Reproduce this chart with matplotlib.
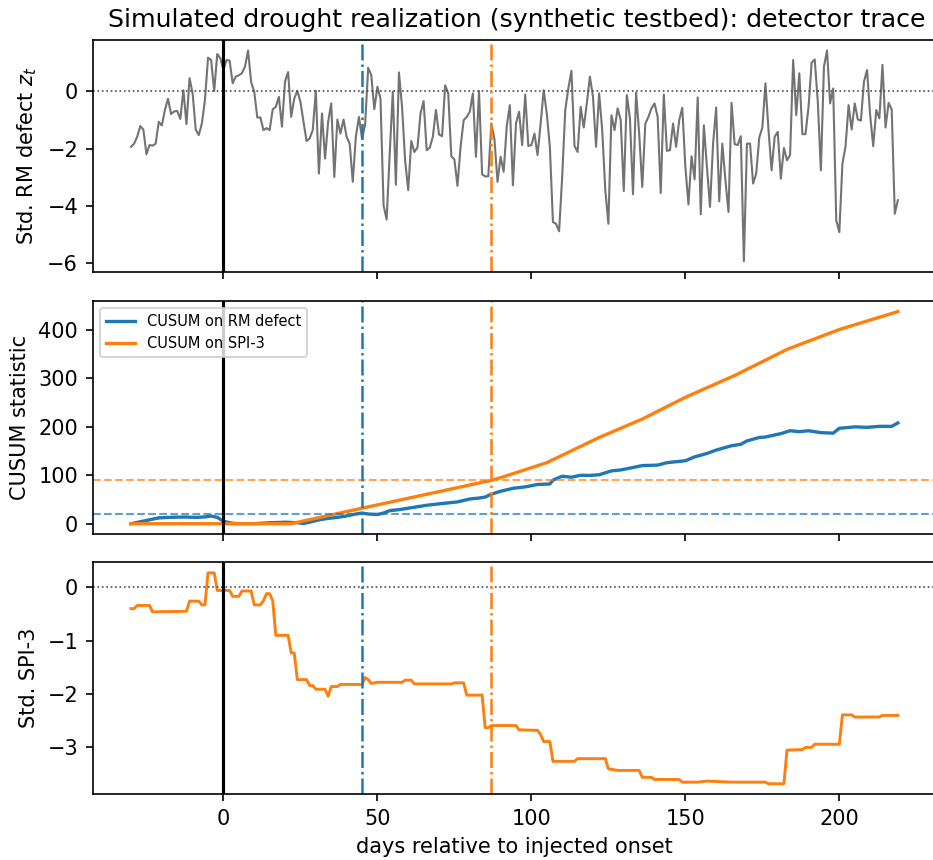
import matplotlib
matplotlib.use("Agg")
import matplotlib.pyplot as plt
import numpy as np

# ---------------- data ----------------
day_start = -30
z_t = [
    -1.94, -1.83, -1.59, -1.22, -1.34, -2.20, -1.88, -1.90, -1.83, -1.07,
    -1.20, -0.66, -0.27, -0.80, -0.71, -0.69, -0.97, 0.03, -1.15, 0.45,
    -0.08, -1.34, -1.53, -1.13, -0.31, 1.16, 1.08, 0.00, 1.29, 1.14,
    0.73, 1.08, 1.06, 0.27, 0.50, 0.55, 0.62, 0.85, 1.41, 0.31,
    -0.02, -0.92, -0.92, -1.36, -1.29, -1.36, -0.64, -0.55, -0.20, -1.24,
    0.33, 0.66, -0.90, -0.26, 0.01, -0.37, -1.07, -1.74, -1.65, -1.36,
    0.01, -2.87, -0.78, -2.35, -1.07, -0.43, -2.99, -0.99, -1.48, -0.99,
    -1.59, -1.83, -3.16, -1.59, -0.90, -1.65, -1.19, 0.81, 0.56, -0.63,
    0.15, -0.26, -3.98, -4.47, -2.16, -0.02, -3.26, 0.65, -0.55, -2.41,
    -3.45, -1.74, -2.12, -1.97, -0.78, -0.35, -2.06, -1.97, -1.59, -0.66,
    -1.51, -1.57, 0.20, -0.08, -2.27, -2.38, -3.30, -1.95, -1.02, -0.90,
    -0.72, -0.08, -2.29, 0.00, -2.90, -2.97, -2.97, -1.13, -1.67, -3.16,
    -2.29, -2.81, -1.22, -0.49, -3.28, -1.13, -0.72, -1.88, -0.12, -1.91,
    -1.88, -1.48, -2.23, -1.13, 0.03, -0.78, -1.94, -4.56, -4.62, -4.88,
    -2.99, -0.66, 0.09, 0.70, -1.91, -2.12, -0.55, -1.27, -0.43, 0.50,
    -0.20, -1.94, -0.08, -1.36, -3.45, -4.62, -0.84, -1.36, -0.60, -1.01,
    -3.48, -0.14, -0.95, -3.59, -0.05, -1.48, -3.34, -1.13, -0.90, -0.60,
    -0.43, -0.90, -3.55, -0.12, -2.08, -2.06, -1.13, -1.94, -1.01, -0.58,
    -2.64, -3.95, -2.27, -3.07, -0.22, -4.29, -1.19, -2.64, -4.03, -1.83,
    -0.57, -3.84, -1.83, -3.10, -4.21, -0.41, -1.85, -1.88, -1.57, -5.92,
    -1.83, -1.83, -3.22, -2.87, -1.62, -1.27, 0.27, -1.36, -2.76, -1.59,
    -1.42, -3.05, -1.98, -2.41, -2.23, 1.08, -0.84, 0.62, -1.50, -1.50,
    -0.55, 0.99, 1.10, -0.37, -2.76, 0.85, 1.41, -0.43, 0.09, -4.50,
    -4.91, -2.52, -1.94, -0.49, -1.34, -0.43, -0.99, -1.03, 0.33, 0.73,
    -0.84, -1.92, -0.66, -0.95, 0.91, -1.27, -0.41, -0.64, -4.27, -3.80,
]
z_days = list(range(day_start, day_start + len(z_t)))

cusum_rm_days = [-30, -27, -24, -21, -18, -15, -12, -9, -6, -4, -2, 0, 2, 4, 10,
                 15, 20, 24, 26, 28, 31, 34, 37, 40, 43, 45, 47, 50, 52, 54,
                 57, 60, 63, 66, 70, 73, 76, 80, 83, 85, 87, 90, 94, 98, 102,
                 106, 107, 110, 113, 116, 119, 122, 126, 129, 133, 136, 141,
                 144, 150, 153, 157, 160, 165, 168, 170, 174, 176, 181, 184,
                 187, 190, 194, 198, 200, 205, 209, 213, 217, 219]
cusum_rm_vals = [0, 4, 8, 12, 13, 13.5, 13.7, 13, 14, 15.8, 13, 5, 2, 0, 0,
                 2, 3, 2, 0.5, 3, 8, 11, 13, 16, 20, 22, 20, 19, 22, 27,
                 29, 32, 35, 38, 41, 43, 45, 51, 53, 55, 61, 67, 73, 76, 81,
                 82, 90, 98, 96, 100, 99.7, 101, 109, 111, 116, 120, 121,
                 126, 130, 138, 145, 152, 161, 164, 171, 178, 179, 186, 192,
                 190, 192, 188, 187, 197, 200, 199, 201, 201, 208]

cusum_spi_days = [-30, 22, 45, 87, 90, 105, 122, 136, 150, 166, 183, 200, 219]
cusum_spi_vals = [0, 0, 32, 89.5, 95, 126, 178, 216, 261, 306, 360, 401, 438]

thr_rm = 21.0
thr_spi = 89.4
alarm_rm = 45
alarm_spi = 87

spi_days = [-30, -29, -28, -24, -23, -12, -11, -8, -7, -6, -5, -3, -2, 2, 3, 5,
            6, 9, 10, 12, 13, 14, 15, 16, 17, 21, 22, 23, 24, 27, 28, 29, 30,
            33, 34, 35, 37, 38, 45, 46, 47, 48, 50, 58, 59, 61, 62, 74, 75, 78,
            79, 84, 85, 86, 87, 95, 96, 102, 103, 104, 106, 107, 114, 115, 124,
            125, 128, 135, 136, 139, 140, 148, 149, 154, 157, 165, 176, 177,
            182, 183, 188, 189, 191, 192, 200, 201, 204, 205, 213, 214, 219]
spi_vals = [-0.40, -0.40, -0.34, -0.34, -0.46, -0.45, -0.26, -0.26, -0.33, -0.33,
            0.27, 0.27, -0.06, -0.06, -0.17, -0.17, -0.07, -0.07, -0.33, -0.33,
            -0.25, -0.12, -0.12, -0.25, -0.90, -0.90, -1.23, -1.23, -1.73, -1.73,
            -1.84, -1.84, -1.91, -1.91, -2.04, -1.86, -1.86, -1.82, -1.82, -1.69,
            -1.73, -1.80, -1.78, -1.78, -1.74, -1.74, -1.81, -1.81, -1.79, -1.79,
            -2.02, -2.02, -2.63, -2.63, -2.59, -2.59, -2.67, -2.68, -2.76, -2.89,
            -2.89, -3.26, -3.26, -3.21, -3.21, -3.40, -3.43, -3.43, -3.56, -3.56,
            -3.60, -3.60, -3.65, -3.65, -3.63, -3.65, -3.65, -3.68, -3.68, -3.05,
            -3.04, -3.00, -3.00, -2.94, -2.94, -2.39, -2.39, -2.43, -2.43, -2.40,
            -2.40]

title = "Simulated drought realization (synthetic testbed): detector trace"

# ---------------- figure ----------------
plt.rcParams['font.family'] = ['DejaVu Sans']
fig = plt.figure(figsize=(933 / 150, 860 / 150), dpi=150)
W, H = 933.0, 860.0
left = 92.7 / W
width = (936.2 - 92.7) / W
ax1 = fig.add_axes([left, 1 - 271.7 / H, width, 231.7 / H])
ax2 = fig.add_axes([left, 1 - 534.3 / H, width, 233.3 / H], sharex=ax1)
ax3 = fig.add_axes([left, 1 - 794.3 / H, width, 232.0 / H], sharex=ax1)

# top panel
ax1.plot(z_days, z_t, color='0.45', lw=1.0)
ax1.axhline(0, color='0.3', lw=0.8, ls=':')
ax1.set_ylabel("Std. RM defect $z_t$")
ax1.set_title(title, fontsize=12.15, x=0.503)

# middle panel
ax2.plot(cusum_rm_days, cusum_rm_vals, color='C0', lw=1.6, label='CUSUM on RM defect')
ax2.plot(cusum_spi_days, cusum_spi_vals, color='C1', lw=1.6, label='CUSUM on SPI-3')
ax2.axhline(thr_rm, color='C0', lw=1.0, ls='--', alpha=0.7)
ax2.axhline(thr_spi, color='C1', lw=1.0, ls='--', alpha=0.7)
ax2.set_ylabel("CUSUM statistic")
ax2.legend(loc='upper left', fontsize=7)

# bottom panel
ax3.plot(spi_days, spi_vals, color='C1', lw=1.4)
ax3.axhline(0, color='0.3', lw=0.8, ls=':')
ax3.set_ylabel("Std. SPI-3")
ax3.set_xlabel("days relative to injected onset")

for ax in (ax1, ax2, ax3):
    ax.axvline(0, color='k', lw=1.5)
    ax.axvline(alarm_rm, color='C0', lw=1.2, ls='-.')
    ax.axvline(alarm_spi, color='C1', lw=1.2, ls='-.')

ax1.tick_params(labelbottom=False)
ax2.tick_params(labelbottom=False)
ax1.set_xticks([0, 50, 100, 150, 200])
ax2.set_yticks([0, 100, 200, 300, 400])
ax3.set_yticks([0, -1, -2, -3])

fig.savefig("out.png", dpi=150)
